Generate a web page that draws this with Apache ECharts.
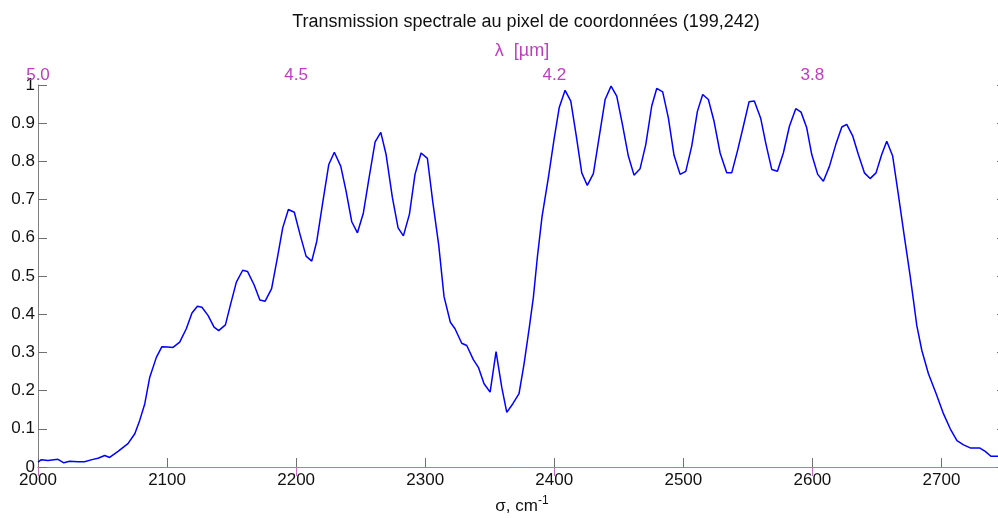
<!DOCTYPE html>
<html>
<head>
<meta charset="utf-8">
<script src="https://cdn.jsdelivr.net/npm/echarts/dist/echarts.min.js"></script>
<style>
    html, body { margin: 0; padding: 0; background: #fff; }
    #chart { width: 998px; height: 518px; }
</style>
</head>
<body>
<div id="chart"></div>
<script>
// nombre d'onde (cm-1)
var sigma = [2000, 2002.6, 2007.7, 2015.5, 2020, 2024.5, 2031, 2036, 2042.6, 2046.5, 2051.7, 2055.5, 2062, 2069.7, 2075, 2078.8, 2082.7, 2086.6, 2091.7, 2096,
    2100.7, 2104.6, 2109.8, 2114.9, 2119.3, 2123.5, 2127, 2131.7, 2136.4, 2140, 2145.2, 2149.3, 2153.7, 2158.6, 2162.3, 2167.4, 2171.9, 2176, 2181, 2185.5,
    2189.6, 2194, 2198.6, 2203, 2207.7, 2212.1, 2216, 2220.6, 2225.3, 2229.6, 2234.6, 2238.7, 2243.1, 2247.5, 2252.1, 2256.5, 2261.2, 2265.6, 2269.7, 2274.6,
    2279, 2283.1, 2287.8, 2292.1, 2296.8, 2301.7, 2305.8, 2310.5, 2314.6, 2319.5, 2323.1, 2328.3, 2332.2, 2337.3, 2341.2, 2345.6, 2350.3, 2354.9, 2359.3, 2363.2,
    2367.8, 2372.7, 2376.6, 2380.7, 2383.8, 2386.9, 2390.5, 2395.4, 2399.8, 2403.9, 2408.4, 2412.8, 2416.9, 2421.3, 2425.6, 2430.3, 2434.9, 2439.4, 2444, 2448.4,
    2452.8, 2457.4, 2461.8, 2466.5, 2470.9, 2475.5, 2479.4, 2484, 2488.4, 2492.8, 2497.5, 2501.9, 2506.5, 2510.9, 2515, 2519.4, 2523.8, 2528.5, 2533.6, 2537.5,
    2541.9, 2546.5, 2550.9, 2555, 2560, 2564.1, 2568.5, 2572.9, 2577.5, 2582.2, 2587.1, 2591.2, 2595.6, 2599.5, 2604.1, 2608.5, 2613.2, 2618.1, 2622.8, 2626.6,
    2631.3, 2635.6, 2640.3, 2644.7, 2649.3, 2653.7, 2657.6, 2662.2, 2666.6, 2671, 2675.7, 2678.3, 2680.9, 2684.8, 2689.9, 2695.9, 2701.6, 2706.8, 2712, 2717.1,
    2722.3, 2729.5, 2733.9, 2738.3, 2743, 2748];
// transmission
var trans = [0.013, 0.019, 0.017, 0.020, 0.011, 0.015, 0.014, 0.014, 0.020, 0.023, 0.030, 0.025, 0.041, 0.061, 0.087, 0.122, 0.165, 0.235, 0.287, 0.315,
    0.314, 0.313, 0.327, 0.362, 0.403, 0.421, 0.418, 0.397, 0.366, 0.357, 0.372, 0.427, 0.484, 0.515, 0.512, 0.477, 0.437, 0.434, 0.467, 0.548,
    0.626, 0.674, 0.667, 0.609, 0.552, 0.539, 0.591, 0.692, 0.792, 0.824, 0.787, 0.722, 0.642, 0.613, 0.665, 0.757, 0.851, 0.876, 0.818, 0.705,
    0.626, 0.605, 0.662, 0.766, 0.822, 0.808, 0.696, 0.580, 0.446, 0.379, 0.362, 0.324, 0.318, 0.281, 0.261, 0.218, 0.196, 0.302, 0.209, 0.143,
    0.165, 0.192, 0.270, 0.366, 0.444, 0.549, 0.655, 0.757, 0.857, 0.942, 0.986, 0.958, 0.870, 0.770, 0.737, 0.768, 0.866, 0.962, 0.997, 0.971,
    0.897, 0.814, 0.764, 0.781, 0.844, 0.945, 0.991, 0.982, 0.914, 0.816, 0.766, 0.774, 0.840, 0.931, 0.975, 0.962, 0.905, 0.822, 0.770, 0.770,
    0.827, 0.892, 0.956, 0.958, 0.912, 0.844, 0.779, 0.774, 0.822, 0.892, 0.938, 0.929, 0.888, 0.818, 0.766, 0.748, 0.787, 0.844, 0.890, 0.897,
    0.866, 0.818, 0.770, 0.755, 0.770, 0.818, 0.853, 0.814, 0.713, 0.609, 0.501, 0.436, 0.370, 0.305, 0.244, 0.192, 0.139, 0.100, 0.069, 0.058,
    0.050, 0.050, 0.041, 0.028, 0.028, 0.028];

// graduations
var sigmaTicks = [2000, 2100, 2200, 2300, 2400, 2500, 2600, 2700];
var lambdaTicks = [2000, 2200, 2400, 2600];
var lambdaLabels = ['5.0', '4.5', '4.2', '3.8'];

var myChart = echarts.init(document.getElementById('chart'));

var seriesData = [];
for (var i = 0; i < sigma.length; i++) {
    seriesData.push([sigma[i], trans[i]]);
}

var font = 'Liberation Sans, Arial, sans-serif';
var magenta = '#c03cc0';

var option = {
    animation: false,
    backgroundColor: '#fff',
    title: {
        text: 'Transmission spectrale au pixel de coordonnées (199,242)',
        left: 521,
        textAlign: 'center',
        top: 8,
        textStyle: { fontFamily: font, fontSize: 18, fontWeight: 'normal', color: '#111' }
    },
    grid: {
        left: 38,
        right: -8,
        top: 85,
        bottom: 51,
        containLabel: false,
        outerBoundsMode: 'none',
        show: false
    },
    xAxis: [{
        type: 'value',
        position: 'bottom',
        min: 2000,
        max: 2750,
        interval: 100,
        name: '{t|σ, cm}{sup|-1}',
        nameLocation: 'middle',
        nameGap: 28,
        nameTextStyle: {
            rich: {
                t: { fontFamily: font, fontSize: 17, color: '#111' },
                sup: { fontFamily: font, fontSize: 12, color: '#111', padding: [0, 0, 10, 0] }
            }
        },
        axisLine: { lineStyle: { color: '#808080', width: 1 } },
        axisTick: { inside: true, length: 9, lineStyle: { color: '#707070' } },
        axisLabel: {
            margin: 5,
            fontFamily: font,
            fontSize: 17,
            color: '#111',
            formatter: function (v) {
                return sigmaTicks.indexOf(v) >= 0 ? String(v) : '';
            }
        },
        splitLine: { show: false }
    }, {
        type: 'value',
        position: 'top',
        min: 2000,
        max: 2750,
        interval: 200,
        name: 'λ  [µm]',
        nameLocation: 'middle',
        nameGap: 25,
        nameTextStyle: { fontFamily: font, fontSize: 18, color: magenta },
        axisLine: { lineStyle: { color: '#c868c8', width: 1 } },
        axisTick: { inside: true, length: 9, lineStyle: { color: '#c868c8' } },
        axisLabel: {
            margin: 1,
            fontFamily: font,
            fontSize: 17,
            color: magenta,
            formatter: function (v) {
                var k = lambdaTicks.indexOf(v);
                return k >= 0 ? lambdaLabels[k] : '';
            }
        },
        splitLine: { show: false }
    }],
    yAxis: [{
        type: 'value',
        position: 'left',
        min: 0,
        max: 1,
        interval: 0.1,
        axisLine: { show: true, lineStyle: { color: '#808080', width: 1 } },
        axisTick: { show: true, inside: true, length: 9, lineStyle: { color: '#707070' } },
        axisLabel: {
            margin: 3,
            fontFamily: font,
            fontSize: 17,
            color: '#111',
            formatter: function (v) {
                return String(Math.round(v * 10) / 10);
            }
        },
        splitLine: { show: false }
    }, {
        type: 'value',
        position: 'right',
        min: 0,
        max: 1,
        interval: 0.1,
        axisLine: { show: true, lineStyle: { color: '#808080', width: 1 } },
        axisTick: { show: true, inside: true, length: 9, lineStyle: { color: '#707070' } },
        axisLabel: { show: false },
        splitLine: { show: false }
    }],
    series: [{
        name: 'Transmission',
        type: 'line',
        xAxisIndex: 0,
        yAxisIndex: 0,
        showSymbol: false,
        symbol: 'none',
        clip: true,
        lineStyle: { color: '#0000ff', width: 1.5 },
        data: seriesData
    }]
};
myChart.setOption(option);
</script>
</body>
</html>
